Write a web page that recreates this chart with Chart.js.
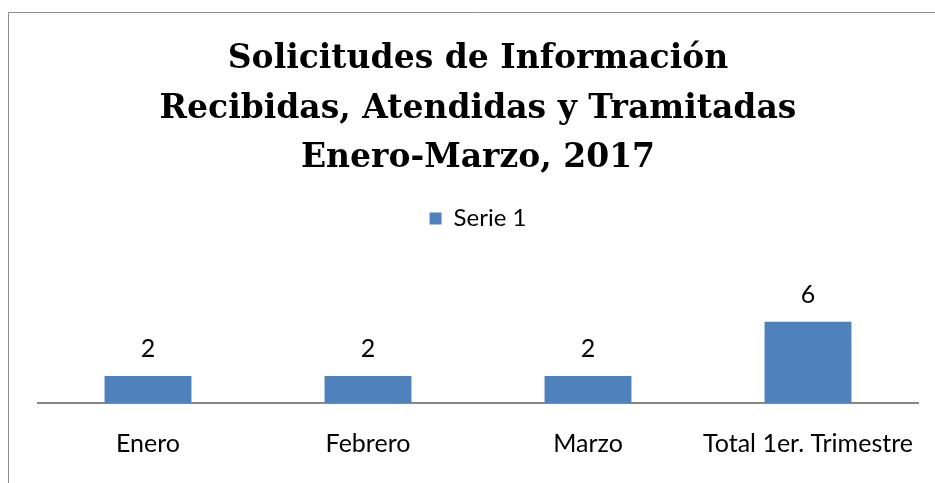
<!DOCTYPE html>
<html>
<head>
<meta charset="utf-8">
<script src="https://cdn.jsdelivr.net/npm/chart.js@4"></script>
<style>
  html, body { margin: 0; padding: 0; background: #fff; }
  #wrap { width: 935px; height: 483px; position: relative; }
</style>
</head>
<body>
<div id="wrap"><canvas id="chart" width="935" height="483"></canvas></div>
<script>
const categories = ['Enero', 'Febrero', 'Marzo', 'Total 1er. Trimestre'];
const serieValues = [2, 2, 2, 6];
const serieName = 'Serie 1';
const titleLines = ['Solicitudes de Información', 'Recibidas, Atendidas y Tramitadas', 'Enero-Marzo, 2017'];

const labelFont = 'Lato, "Open Sans", sans-serif';

// values above each bar
const barValues = {
  id: 'barValues',
  afterDatasetsDraw(chart) {
    const ctx = chart.ctx;
    const meta = chart.getDatasetMeta(0);
    ctx.save();
    ctx.font = '25px ' + labelFont;
    ctx.fillStyle = '#000';
    ctx.textAlign = 'center';
    ctx.textBaseline = 'middle';
    meta.data.forEach((bar, i) => {
      ctx.fillText(String(serieValues[i]), bar.x, bar.y - 27);
    });
    ctx.restore();
  }
};

// outer frame of the chart object
const frame = {
  id: 'frame',
  beforeDraw(chart) {
    const ctx = chart.ctx;
    ctx.save();
    ctx.strokeStyle = '#8c8c8c';
    ctx.lineWidth = 1;
    ctx.beginPath();
    ctx.moveTo(8.5, 490);
    ctx.lineTo(8.5, 12.5);
    ctx.lineTo(940, 12.5);
    ctx.stroke();
    ctx.restore();
  }
};

new Chart(document.getElementById('chart').getContext('2d'), {
  type: 'bar',
  data: {
    labels: categories,
    datasets: [{
      label: serieName,
      data: serieValues,
      backgroundColor: '#4F81BD',
      categoryPercentage: 1,
      barPercentage: 0.395
    }]
  },
  options: {
    responsive: false,
    animation: false,
    layout: { padding: { left: 38, right: 17, top: 35, bottom: -2 } },
    plugins: {
      title: {
        display: true,
        text: titleLines,
        color: '#000',
        font: { family: '"DejaVu Serif", serif', size: 33, weight: 'bold', lineHeight: 1.5 },
        padding: { top: 0, bottom: 17 }
      },
      legend: {
        display: true,
        position: 'top',
        labels: {
          color: '#000',
          font: { family: labelFont, size: 24 },
          boxWidth: 12,
          boxHeight: 12,
          padding: 6
        }
      },
      tooltip: { enabled: false }
    },
    scales: {
      x: {
        grid: { display: false, drawTicks: false },
        border: { display: true, color: '#868686', width: 2 },
        ticks: { color: '#000', font: { family: labelFont, size: 25 }, padding: 26, maxRotation: 0 },
        // the long last label may overflow a little, like the original
        afterFit(scale) {
          scale.paddingLeft = 0;
          scale.paddingRight = 0;
        }
      },
      y: {
        display: false,
        min: 0,
        max: 12
      }
    }
  },
  plugins: [barValues, frame]
});
</script>
</body>
</html>
